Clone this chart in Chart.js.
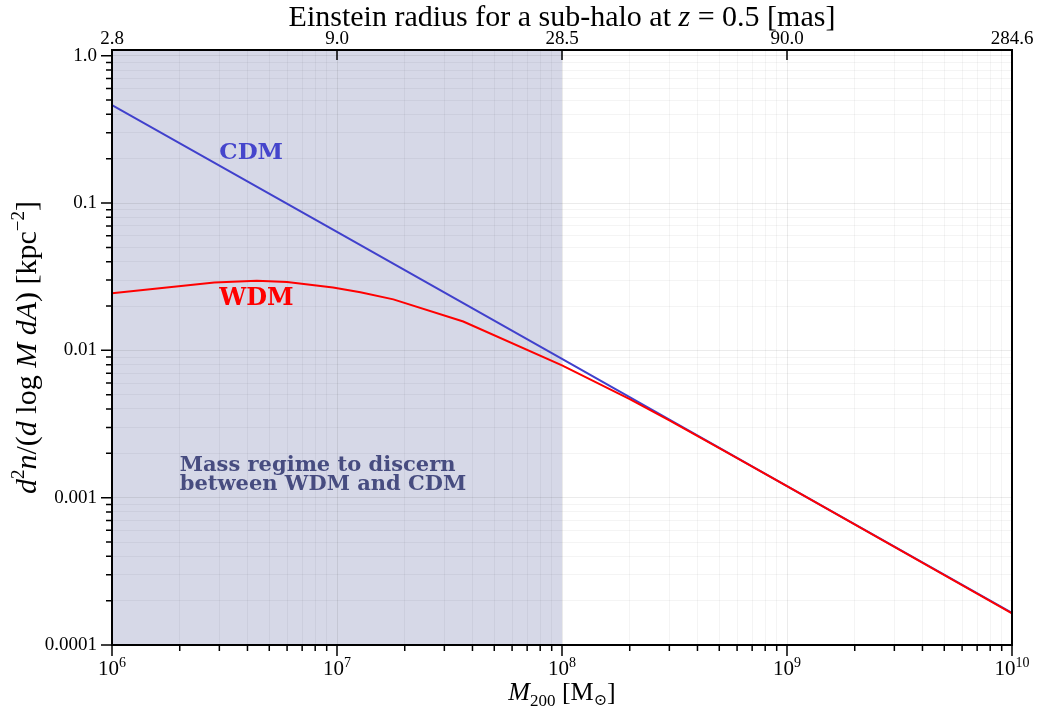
<!DOCTYPE html>
<html>
<head>
<meta charset="utf-8">
<script src="https://cdn.jsdelivr.net/npm/chart.js@4.4.0/dist/chart.umd.min.js"></script>
<style>
html, body { margin: 0; padding: 0; background: #fff; }
#wrap { width: 1038px; height: 713px; }
</style>
</head>
<body>
<div id="wrap"><canvas id="subhaloChart" width="1038" height="713"></canvas></div>
<script>
// subhalo mass function
const massCdm = [1e6, 1e7, 1e8, 1e9, 1e10];
const densityCdm = [0.463, 0.0637, 0.00875, 0.00120, 0.000165];
const massWdm = [1e6, 2.85e6, 4.4e6, 6.0e6, 9.6e6, 1.27e7, 1.78e7, 3.64e7, 1e8, 2e8, 3e8, 5e8, 1e9, 1e10];
const densityWdm = [0.0244, 0.0289, 0.0297, 0.0291, 0.0267, 0.0248, 0.0222, 0.0157, 0.0079, 0.00466, 0.00335, 0.00217, 0.00120, 0.000164];

// axes
const massDecades = [1e6, 1e7, 1e8, 1e9, 1e10];
const massExponents = ['6', '7', '8', '9', '10'];
const einsteinLabels = ['2.8', '9.0', '28.5', '90.0', '284.6'];
const densityDecades = [1e-4, 1e-3, 1e-2, 1e-1, 1];
const densityLabels = ['0.0001', '0.001', '0.01', '0.1', '1.0'];
const regimeRange = [1e6, 1e8];

const SERIF = '"Liberation Serif", "DejaVu Serif", serif';
const WIDE = '"DejaVu Serif", serif';

function withMinors(decades) {
    const out = [];
    decades.forEach((d, i) => {
        if (i === decades.length - 1) {
            out.push({ value: d, major: true });
            return;
        }
        for (let k = 1; k <= 9; k++) out.push({ value: k * d, major: k === 1 });
    });
    return out;
}

function drawRich(ctx, parts, x, y, align) {
    let w = 0;
    parts.forEach(p => { ctx.font = p.font; w += ctx.measureText(p.text).width; });
    let cx = align === 'center' ? x - w / 2 : x;
    ctx.textAlign = 'left';
    ctx.textBaseline = 'alphabetic';
    parts.forEach(p => {
        ctx.font = p.font;
        ctx.fillText(p.text, cx, y + (p.dy || 0));
        cx += ctx.measureText(p.text).width;
    });
}

const decorPlugin = {
    id: 'decor',
    beforeDraw(chart) {
        const { ctx, chartArea, scales } = chart;
        const x0 = scales.x.getPixelForValue(regimeRange[0]);
        const x1 = scales.x.getPixelForValue(regimeRange[1]);
        ctx.save();
        ctx.fillStyle = '#d6d8e7';
        ctx.fillRect(x0, chartArea.top, x1 - x0, chartArea.bottom - chartArea.top);
        ctx.restore();
    },
    afterDraw(chart) {
        const { ctx, chartArea: a, scales } = chart;
        const xs = scales.x, ys = scales.y;
        ctx.save();

        // frame
        ctx.strokeStyle = '#000';
        ctx.lineWidth = 2;
        ctx.strokeRect(a.left, a.top, a.right - a.left, a.bottom - a.top);

        // ticks
        ctx.lineWidth = 1.5;
        ctx.beginPath();
        withMinors(massDecades).forEach(t => {
            const px = xs.getPixelForValue(t.value);
            ctx.moveTo(px, a.bottom);
            ctx.lineTo(px, a.bottom + (t.major ? 11 : 6));
        });
        massDecades.forEach(v => {
            const px = xs.getPixelForValue(v);
            ctx.moveTo(px, a.top);
            ctx.lineTo(px, a.top + 10);
        });
        withMinors(densityDecades).forEach(t => {
            const py = ys.getPixelForValue(t.value);
            ctx.moveTo(a.left, py);
            ctx.lineTo(a.left - (t.major ? 11 : 6), py);
        });
        ctx.stroke();

        // bottom tick labels 10^n
        ctx.fillStyle = '#000';
        massDecades.forEach((v, i) => {
            const px = xs.getPixelForValue(v);
            drawRich(ctx, [
                { text: '10', font: `21px ${SERIF}` },
                { text: massExponents[i], font: `14px ${SERIF}`, dy: -8 }
            ], px, 675, 'center');
        });

        const cx = (a.left + a.right) / 2;
        // top title
        drawRich(ctx, [
            { text: 'Einstein radius for a sub-halo at ', font: `30px ${SERIF}` },
            { text: 'z', font: `italic 30px ${SERIF}` },
            { text: ' = 0.5 [mas]', font: `30px ${SERIF}` }
        ], cx, 26, 'center');

        // x title
        drawRich(ctx, [
            { text: 'M', font: `italic 26px ${SERIF}` },
            { text: '200', font: `17px ${SERIF}`, dy: 6 },
            { text: ' [M', font: `26px ${SERIF}` },
            { text: '⊙', font: `16px ${SERIF}`, dy: 5 },
            { text: ']', font: `26px ${SERIF}` }
        ], cx, 700, 'center');

        // y title
        ctx.save();
        ctx.translate(36, (a.top + a.bottom) / 2);
        ctx.rotate(-Math.PI / 2);
        drawRich(ctx, [
            { text: 'd', font: `italic 30px ${SERIF}` },
            { text: '2', font: `19px ${SERIF}`, dy: -12 },
            { text: 'n', font: `italic 30px ${SERIF}` },
            { text: '/(', font: `30px ${SERIF}` },
            { text: 'd', font: `italic 30px ${SERIF}` },
            { text: ' log ', font: `30px ${SERIF}` },
            { text: 'M', font: `italic 30px ${SERIF}` },
            { text: ' ', font: `30px ${SERIF}` },
            { text: 'dA', font: `italic 30px ${SERIF}` },
            { text: ') [kpc', font: `30px ${SERIF}` },
            { text: '−2', font: `19px ${SERIF}`, dy: -12 },
            { text: ']', font: `30px ${SERIF}` }
        ], 0, 0, 'center');
        ctx.restore();

        // annotations
        ctx.textAlign = 'left';
        ctx.textBaseline = 'alphabetic';
        ctx.font = `bold 23px ${WIDE}`;
        ctx.fillStyle = '#4545cc';
        ctx.fillText('CDM', xs.getPixelForValue(3e6), ys.getPixelForValue(0.2));
        ctx.font = `bold 24px ${WIDE}`;
        ctx.fillStyle = '#ff0000';
        ctx.fillText('WDM', xs.getPixelForValue(3e6), ys.getPixelForValue(0.0202));
        ctx.fillStyle = '#474c80';
        ctx.font = `bold 21px ${WIDE}`;
        const rx = xs.getPixelForValue(2e6);
        const ry = ys.getPixelForValue(0.00152);
        ctx.fillText('Mass regime to discern', rx, ry);
        ctx.fillText('between WDM and CDM', rx, ry + 19);

        ctx.restore();
    }
};

const gridColor = (c) => c.tick && c.tick.major ? 'rgba(0,0,0,0.08)' : 'rgba(0,0,0,0.045)';

new Chart(document.getElementById('subhaloChart'), {
    type: 'line',
    data: {
        datasets: [
            {
                label: 'CDM',
                data: massCdm.map((m, i) => ({ x: m, y: densityCdm[i] })),
                borderColor: '#4040cc',
                borderWidth: 2,
                pointRadius: 0,
                tension: 0,
                order: 2,
            },
            {
                label: 'WDM',
                data: massWdm.map((m, i) => ({ x: m, y: densityWdm[i] })),
                borderColor: '#ff0000',
                borderWidth: 2,
                pointRadius: 0,
                tension: 0,
                order: 1,
            },
        ],
    },
    options: {
        responsive: false,
        animation: false,
        devicePixelRatio: 1,
        layout: { padding: { left: 0, right: 26, top: 0, bottom: 0 } },
        plugins: {
            legend: { display: false },
            tooltip: { enabled: false },
        },
        scales: {
            x: {
                type: 'logarithmic',
                position: 'bottom',
                min: 1e6,
                max: 1e10,
                afterBuildTicks: (s) => { s.ticks = withMinors(massDecades); },
                afterFit: (s) => { s.height = 68; },
                grid: { color: gridColor, lineWidth: 1, drawTicks: false },
                border: { display: false },
                ticks: { display: false },
            },
            x2: {
                type: 'logarithmic',
                position: 'top',
                min: 1e6,
                max: 1e10,
                afterBuildTicks: (s) => { s.ticks = massDecades.map(v => ({ value: v })); },
                afterFit: (s) => { s.height = 50; },
                grid: { display: false, drawTicks: false },
                border: { display: false },
                ticks: {
                    autoSkip: false,
                    maxRotation: 0,
                    padding: 0,
                    color: '#000',
                    font: { family: SERIF, size: 19 },
                    callback: (v) => einsteinLabels[massDecades.indexOf(v)] ?? '',
                },
            },
            y: {
                type: 'logarithmic',
                min: 1e-4,
                max: 1.094,
                afterBuildTicks: (s) => { s.ticks = withMinors(densityDecades); },
                afterFit: (s) => { s.width = 112; },
                grid: { color: gridColor, lineWidth: 1, drawTicks: false },
                border: { display: false },
                ticks: {
                    autoSkip: false,
                    padding: 15,
                    color: '#000',
                    font: { family: SERIF, size: 19 },
                    callback: (v) => {
                        const i = densityDecades.findIndex(d => Math.abs(d - v) / d < 1e-6);
                        return i >= 0 ? densityLabels[i] : '';
                    },
                },
            },
        },
    },
    plugins: [decorPlugin],
});
</script>
</body>
</html>
